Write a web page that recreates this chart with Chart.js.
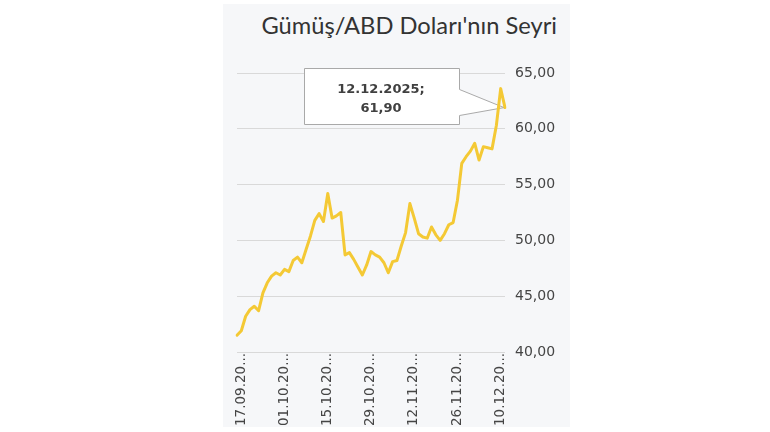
<!DOCTYPE html>
<html>
<head>
<meta charset="utf-8">
<script src="https://cdn.jsdelivr.net/npm/chart.js@4.4.1/dist/chart.umd.min.js"></script>
<style>
  html, body { margin: 0; padding: 0; background: #ffffff; }
  #wrap { position: relative; width: 770px; height: 432px; overflow: hidden; }
  #panel { position: absolute; left: 223px; top: 4px; width: 347px; height: 423px; background: #f6f7f9; }
  #title { position: absolute; right: 213px; top: 14px; font-family: Lato, "Open Sans", sans-serif; font-size: 23.7px; line-height: 1; color: #333333; white-space: nowrap; }
  #c { position: absolute; left: 0; top: 0; }
</style>
</head>
<body>
<div id="wrap">
  <div id="panel"></div>
  <div id="title">Gümüş/ABD Doları'nın Seyri</div>
  <canvas id="c" width="770" height="432"></canvas>
</div>
<script>
const dates = [
  "17.09.2025","18.09.2025","19.09.2025","22.09.2025","23.09.2025","24.09.2025","25.09.2025","26.09.2025","29.09.2025","30.09.2025",
  "01.10.2025","02.10.2025","03.10.2025","06.10.2025","07.10.2025","08.10.2025","09.10.2025","10.10.2025","13.10.2025","14.10.2025",
  "15.10.2025","16.10.2025","17.10.2025","20.10.2025","21.10.2025","22.10.2025","23.10.2025","24.10.2025","27.10.2025","28.10.2025",
  "29.10.2025","30.10.2025","31.10.2025","03.11.2025","04.11.2025","05.11.2025","06.11.2025","07.11.2025","10.11.2025","11.11.2025",
  "12.11.2025","13.11.2025","14.11.2025","17.11.2025","18.11.2025","19.11.2025","20.11.2025","21.11.2025","24.11.2025","25.11.2025",
  "26.11.2025","27.11.2025","28.11.2025","01.12.2025","02.12.2025","03.12.2025","04.12.2025","05.12.2025","08.12.2025","09.12.2025",
  "10.12.2025","11.12.2025","12.12.2025"
];
const silverUsd = [
  41.5, 41.9, 43.2, 43.8, 44.1, 43.7, 45.3, 46.2, 46.8, 47.1,
  46.9, 47.4, 47.2, 48.2, 48.5, 48.0, 49.2, 50.4, 51.8, 52.4,
  51.7, 54.2, 52.0, 52.2, 52.5, 48.7, 48.9, 48.3, 47.6, 46.9,
  47.8, 49.0, 48.7, 48.5, 48.0, 47.1, 48.1, 48.2, 49.5, 50.7,
  53.3, 52.0, 50.6, 50.3, 50.2, 51.2, 50.5, 50.0, 50.6, 51.4,
  51.6, 53.6, 56.9, 57.5, 58.0, 58.7, 57.2, 58.4, 58.3, 58.2,
  60.3, 63.6, 61.9
];
const yTicks = [40, 45, 50, 55, 60, 65];
const labelEvery = 10;

const fmt = v => v.toFixed(2).replace('.', ',');

const calloutPlugin = {
  id: 'callout',
  beforeDatasetsDraw(chart) {
    const ctx = chart.ctx;
    const meta = chart.getDatasetMeta(0);
    const last = meta.data.length - 1;
    const pt = meta.data[last];
    const px = pt.x, py = pt.y;
    const L = 304.5, T = 68.5, R = 459.5, B = 124.5;
    ctx.save();
    ctx.beginPath();
    ctx.moveTo(L, T);
    ctx.lineTo(R, T);
    ctx.lineTo(R, 89.5);
    ctx.lineTo(px - 1, py);
    ctx.lineTo(R, 115.5);
    ctx.lineTo(R, B);
    ctx.lineTo(L, B);
    ctx.closePath();
    ctx.fillStyle = '#ffffff';
    ctx.fill();
    ctx.strokeStyle = '#a9a9a9';
    ctx.lineWidth = 1;
    ctx.stroke();
    ctx.fillStyle = '#404040';
    ctx.font = 'bold 13px "DejaVu Sans", sans-serif';
    ctx.textAlign = 'center';
    ctx.textBaseline = 'alphabetic';
    const cx = (L + R) / 2 - 1;
    ctx.fillText(dates[last] + ';', cx, 93);
    ctx.fillText(fmt(silverUsd[last]), cx, 112);
    ctx.restore();
  }
};

new Chart(document.getElementById('c'), {
  type: 'line',
  data: {
    labels: dates,
    datasets: [{
      data: silverUsd,
      borderColor: '#f4c935',
      borderWidth: 3,
      pointRadius: 0,
      tension: 0,
      fill: false,
      borderJoinStyle: 'round',
      borderCapStyle: 'round'
    }]
  },
  options: {
    responsive: false,
    animation: false,
    layout: { padding: { left: 237, right: 200, top: 73, bottom: 0 } },
    plugins: { legend: { display: false }, tooltip: { enabled: false }, title: { display: false } },
    scales: {
      x: {
        type: 'category',
        offset: false,
        grid: { display: false, drawTicks: false },
        border: { display: false },
        afterFit(scale) { scale.height = 80; },
        ticks: {
          autoSkip: false,
          minRotation: 90,
          maxRotation: 90,
          padding: 1,
          labelOffset: 4,
          color: '#454545',
          font: { family: '"DejaVu Sans", sans-serif', size: 13.5 },
          callback(value, index) {
            if (index % labelEvery !== 0) return '';
            return this.getLabelForValue(value).slice(0, 8) + '...';
          }
        }
      },
      y: {
        position: 'right',
        min: yTicks[0],
        max: yTicks[yTicks.length - 1],
        afterFit(scale) { scale.width = 65; },
        afterBuildTicks(scale) { scale.ticks = yTicks.map(v => ({ value: v })); },
        grid: { color: '#d9d9d9', lineWidth: 1, drawTicks: false },
        border: { display: false },
        ticks: {
          padding: 10,
          color: '#454545',
          font: { family: '"DejaVu Sans", sans-serif', size: 14 },
          callback: v => fmt(v)
        }
      }
    }
  },
  plugins: [calloutPlugin]
});
</script>
</body>
</html>
